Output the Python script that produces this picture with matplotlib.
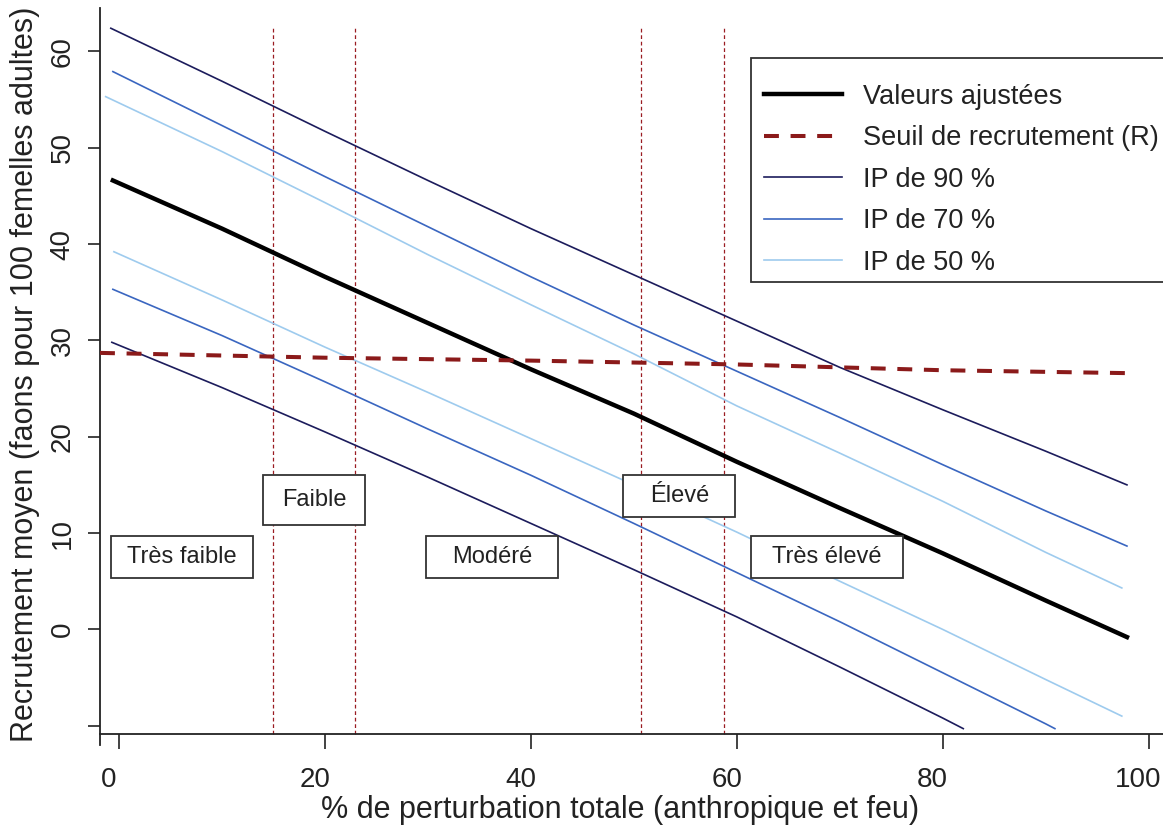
#!/usr/bin/env python

"""
Recrutement moyen selon le % de perturbation totale
"""

import matplotlib
matplotlib.use("Agg")
import matplotlib.pyplot as plt
from matplotlib.patches import Rectangle
from matplotlib.transforms import ScaledTranslation

plt.rcParams['font.family'] = ['Liberation Sans', 'DejaVu Sans']
plt.rcParams['text.color'] = '#222222'
plt.rcParams['xtick.color'] = '#222222'
plt.rcParams['ytick.color'] = '#222222'

# valeurs
x_fit = [-0.6, 10, 20, 30, 40, 50, 60, 70, 80, 90, 97.9]
fitted = [46.6, 41.6, 36.6, 31.8, 27.0, 22.4, 17.4, 12.6, 7.9, 3.0, -0.8]

x_up90 = [-0.8, 10, 20, 30, 40, 50, 60, 70, 80, 90, 97.9]
up90 = [62.4, 56.9, 51.7, 46.6, 41.6, 36.8, 32.0, 27.2, 22.8, 18.5, 15.0]
x_up70 = [-0.6, 10, 20, 30, 40, 50, 60, 70, 80, 90, 97.9]
up70 = [57.9, 52.3, 47.0, 41.8, 36.6, 31.6, 26.8, 22.0, 17.1, 12.3, 8.65]
x_up50 = [-1.3, 10, 20, 30, 40, 50, 60, 70, 80, 90, 97.4]
up50 = [55.3, 49.6, 44.3, 38.9, 33.7, 28.6, 23.2, 18.3, 13.3, 8.0, 4.3]

x_lo50 = [-0.5, 10, 20, 30, 40, 50, 60, 70, 80, 90, 97.4]
lo50 = [39.2, 34.2, 29.3, 24.6, 19.8, 15.0, 10.1, 5.0, 0.0, -5.2, -9.0]
x_lo70 = [-0.6, 10, 20, 30, 40, 50, 60, 70, 80, 90, 90.9]
lo70 = [35.3, 30.5, 25.7, 20.8, 16.0, 11.0, 5.9, 0.8, -4.5, -9.8, -10.3]
x_lo90 = [-0.7, 10, 20, 30, 40, 50, 60, 70, 80, 82.0]
lo90 = [29.8, 25.1, 20.5, 15.8, 11.0, 6.2, 1.3, -3.9, -9.2, -10.3]

x_seuil = [-1.85, 20, 40, 60, 80, 97.9]
seuil = [28.7, 28.2, 27.9, 27.5, 26.9, 26.6]

limites = [15.0, 22.9, 50.7, 58.8]
categories = ["Très faible", "Faible", "Modéré", "Élevé", "Très élevé"]
# cadres des étiquettes (x0, x1, y0, y1)
cadres = [(-0.78, 13.05, 5.36, 9.72), (14.02, 23.9, 10.83, 16.05),
          (29.82, 42.67, 5.36, 9.72), (48.98, 59.86, 11.69, 16.05),
          (61.39, 76.18, 5.36, 9.72)]

legende = ["Valeurs ajustées", "Seuil de recrutement (R)",
           "IP de 90 %", "IP de 70 %", "IP de 50 %"]

c90 = '#1c1c5c'
c70 = '#3a66c0'
c50 = '#9ecbee'
rouge = '#8B1A1A'


def make_graph():
    fig = plt.figure(figsize=(11.63, 8.27), dpi=100)
    ax = fig.add_axes([100/1163, 82/827, 1063/1163, 737/827])
    ax.set_xlim(-1.85, 101.4)
    ax.set_ylim(-12.0, 64.5)

    for xv in limites:
        ax.vlines(xv, -10.87, 62.5, colors='#9a1c22', lw=0.9,
                  linestyles=(0, (3, 2.2)), zorder=1)

    l90, = ax.plot(x_up90, up90, color=c90, lw=1.2)
    ax.plot(x_lo90, lo90, color=c90, lw=1.2)
    l70, = ax.plot(x_up70, up70, color=c70, lw=1.2)
    ax.plot(x_lo70, lo70, color=c70, lw=1.2)
    l50, = ax.plot(x_up50, up50, color=c50, lw=1.2)
    ax.plot(x_lo50, lo50, color=c50, lw=1.2)
    lfit, = ax.plot(x_fit, fitted, color='black', lw=3.2, zorder=4)
    lseuil, = ax.plot(x_seuil, seuil, color=rouge, lw=2.9,
                      dashes=(3.7, 2.9), zorder=5)

    for nom, (x0, x1, y0, y1) in zip(categories, cadres):
        ax.add_patch(Rectangle((x0, y0), x1 - x0, y1 - y0, facecolor='white',
                               edgecolor='#333333', lw=1.3, zorder=6))
        ax.text((x0 + x1) / 2, (y0 + y1) / 2, nom, ha='center', va='center',
                fontsize=17, zorder=7)

    ax.spines['top'].set_visible(False)
    ax.spines['right'].set_visible(False)
    ax.spines['bottom'].set_position(('data', -10.87))
    ax.spines['left'].set_linewidth(1.3)
    ax.spines['bottom'].set_linewidth(1.3)
    ax.spines['left'].set_color('#222222')
    ax.spines['bottom'].set_color('#222222')

    ax.set_xticks([0, 20, 40, 60, 80, 100])
    ax.set_yticks(range(-10, 61, 10))
    ax.set_yticklabels([''] + [str(v) for v in range(0, 61, 10)])
    ax.tick_params(axis='x', length=10.8, width=1.2, pad=13, labelsize=20)
    ax.tick_params(axis='y', length=8.6, width=1.2, pad=9, labelsize=20,
                   labelrotation=90)
    for lbl in ax.get_yticklabels():
        lbl.set_va('center')
    # les étiquettes de x sont un peu décalées à gauche dans l'original
    decalage = ScaledTranslation(-10/100, 0, fig.dpi_scale_trans)
    for lbl in ax.get_xticklabels():
        lbl.set_transform(lbl.get_transform() + decalage)

    fig.text(620/1163, (827-818)/827,
             "% de perturbation totale (anthropique et feu)",
             ha='center', va='baseline', fontsize=22)
    fig.text(25.5/1163, (827-374)/827,
             "Recrutement moyen (faons pour 100 femelles adultes)",
             ha='center', va='center', rotation=90, fontsize=22)

    # cadre de la légende, qui sort à droite de l'image
    ax.add_patch(Rectangle((751/1163, (827-281.7)/827), 450/1163, 224/827,
                           transform=fig.transFigure, clip_on=False,
                           facecolor='white', edgecolor='#333333',
                           lw=1.3, zorder=8))
    leg = ax.legend([lfit, lseuil, l90, l70, l50], legende,
                    loc='upper left', bbox_to_anchor=(747/1163, (827-66.7)/827),
                    bbox_transform=fig.transFigure, borderaxespad=0,
                    fontsize=19.5, handlelength=2.88, handletextpad=0.77,
                    labelspacing=0.57, borderpad=0.63, frameon=False)
    leg.set_zorder(9)

    fig.savefig("out.png", dpi=100)
    plt.close()


def main():
    make_graph()


if __name__ == "__main__":
    main()
